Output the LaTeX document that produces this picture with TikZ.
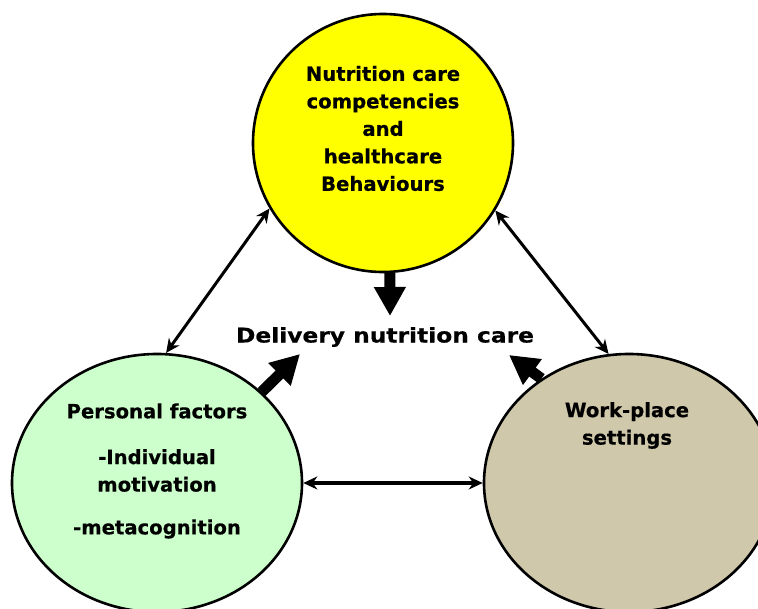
\documentclass[tikz,border=0pt]{standalone}
\usepackage{fontspec}
\setmainfont{DejaVu Sans}[BoldFeatures={FakeBold=0.5}]
\newfontfamily\widefont{DejaVu Sans}[FakeStretch=1.15,BoldFeatures={FakeBold=0.5}]
\usetikzlibrary{arrows.meta,shapes.geometric}
\definecolor{topyellow}{RGB}{255,255,0}
\definecolor{leftgreen}{RGB}{204,255,204}
\definecolor{righttan}{RGB}{207,200,170}
\begin{document}
\begin{tikzpicture}[x=1pt,y=-1pt,
  blob/.style={ellipse, draw=black, line width=2.6pt, inner sep=0pt},
  lbl/.style={font=\fontsize{19.6}{27.5}\selectfont\bfseries, align=center, inner sep=0pt},
  title/.style={font=\widefont\fontsize{20.3}{27.5}\selectfont\bfseries, align=center, inner sep=0pt},
  dbl/.style={{Stealth[length=14pt,width=13pt]}-{Stealth[length=14pt,width=13pt]}, line width=3pt},
  big/.style={-{Triangle[length=29pt,width=30pt]}, line width=11pt}]
\useasboundingbox (0,0) rectangle (758,609);
\clip (0,0) rectangle (758,609);
\node[blob, fill=topyellow, minimum width=260pt, minimum height=258pt] (T) at (383,143) {};
\node[blob, fill=leftgreen, minimum width=290pt, minimum height=258pt] (L) at (157,483) {};
\node[blob, fill=righttan, minimum width=290pt, minimum height=258pt] (R) at (629,483) {};
\node[lbl] (tt) at (383,128.5) {Nutrition care\\competencies\\and\\healthcare\\Behaviours};
\node[title] (dl) at (385,337) {Delivery nutrition care};
\node[lbl] (p1) at (157,411) {Personal factors};
\node[lbl] (p2) at (157,470.5) {-Individual\\motivation};
\node[lbl] (p3) at (157,529) {-metacognition};
\node[lbl] (w) at (627,425.5) {Work-place\\settings};
\draw[dbl] (L.86.4) -- (T.210);
\draw[dbl] (T.-31.3) -- (R.99.3);
\draw[dbl] (L.east) -- (R.west);
\coordinate (ta) at (390,316);
\coordinate (la) at (300,354);
\coordinate (ra) at (509,355);
\draw[big] (T.-87) -- (ta);
\draw[big] (L.41.5) -- (la);
\draw[big] (R.130.8) -- (ra);
\end{tikzpicture}
\end{document}
